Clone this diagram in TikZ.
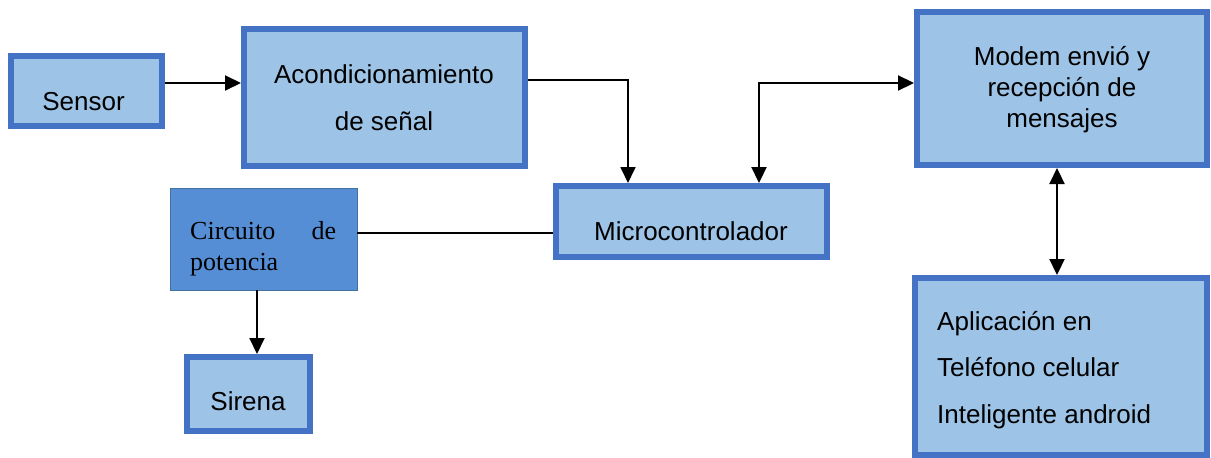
\documentclass[tikz,border=0pt]{standalone}
\usepackage{fontspec}
\setmainfont{Liberation Sans}
\newfontfamily\timesfont{Liberation Serif}
\usetikzlibrary{arrows.meta}

\definecolor{boxfill}{HTML}{9DC3E6}
\definecolor{boxline}{HTML}{4472C4}
\definecolor{powfill}{HTML}{558ED5}
\definecolor{powline}{HTML}{41719C}

\tikzset{
  block/.style={draw=boxline, fill=boxfill, line width=6pt, inner sep=0pt},
  powerblock/.style={draw=powline, fill=powfill, line width=0.9pt, inner sep=0pt},
  label26/.style={inner sep=0pt, anchor=base, font=\fontsize{26}{31}\selectfont},
  tip/.tip={Triangle[length=16pt, width=15pt]},
  arr/.style={line width=2pt, -tip},
  darr/.style={line width=2.2pt, tip-tip},
  plain/.style={line width=1.3pt},
}

\begin{document}
\begin{tikzpicture}[x=1pt, y=-1pt]
  \useasboundingbox (0,0) rectangle (1211,458);

  % blocks
  \node[block, minimum width=151pt, minimum height=70pt] (sensor) at (86.5,91) {};
  \node[block, minimum width=281pt, minimum height=137pt] (acond) at (384.5,97.5) {};
  \node[block, minimum width=271pt, minimum height=71pt] (micro) at (691.5,221.5) {};
  \node[powerblock, minimum width=187pt, minimum height=102pt] (circ) at (263.5,239) {};
  \node[block, minimum width=123pt, minimum height=74pt] (sirena) at (248.5,394) {};
  \node[block, minimum width=290pt, minimum height=153pt] (modem) at (1062,88.5) {};
  \node[block, minimum width=292pt, minimum height=177pt] (app) at (1061,366.5) {};

  % block texts
  \node[label26] (tsensor) at (83.5,110.5) {Sensor};
  \node[label26] (tacond) at (384,83)
    {\fontsize{26}{47}\selectfont\begin{tabular}[t]{@{}c@{}}Acondicionamiento\\ de señal\end{tabular}};
  \node[label26] (tmicro) at (691,240.5) {Microcontrolador};
  \node[label26, anchor=base west] (tcirc) at (190,239)
    {\timesfont\fontsize{26}{31}\selectfont\begin{tabular}[t]{@{}l@{}}\makebox[146pt][s]{Circuito\hfill de}\\ potencia\end{tabular}};
  \node[label26] (tsirena) at (248,410) {Sirena};
  \node[label26] (tmodem) at (1062,65)
    {\fontsize{26}{31}\selectfont\begin{tabular}[t]{@{}c@{}}Modem envió y\\ recepción de\\ mensajes\end{tabular}};
  \node[label26, anchor=base west] (tapp) at (937,330)
    {\fontsize{26}{46.5}\selectfont\begin{tabular}[t]{@{}l@{}}Aplicación en\\ Teléfono celular\\ Inteligente android\end{tabular}};

  % connectors
  \coordinate (s1) at ([yshift=8pt]sensor.east);
  \draw[arr] (s1) -- (s1 -| acond.west);

  \draw[arr, line width=1.8pt] ([yshift=17.5pt]acond.east) -| ([xshift=-63.5pt]micro.north);

  \draw[darr] ([yshift=5.5pt]modem.west) -| ([xshift=67.5pt]micro.north);

  \coordinate (m1) at ([xshift=-5pt]modem.south);
  \draw[darr] (m1) -- (m1 |- app.north);

  \coordinate (c1) at ([yshift=6pt]circ.east);
  \draw[plain] (c1) -- (c1 -| micro.west);

  \coordinate (c2) at ([xshift=-6.5pt]circ.south);
  \draw[arr] (c2) -- (c2 |- sirena.north);
\end{tikzpicture}
\end{document}
